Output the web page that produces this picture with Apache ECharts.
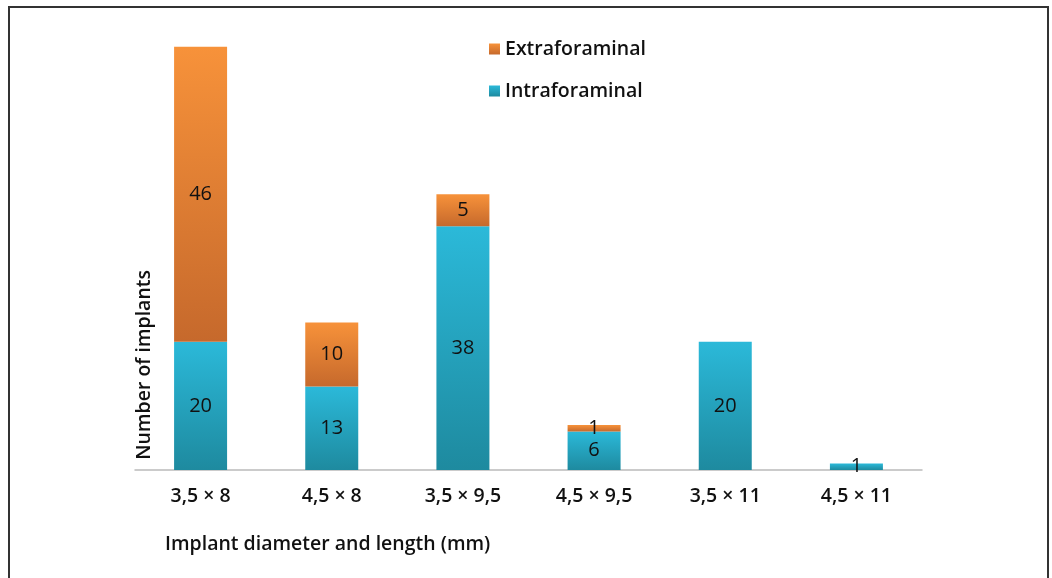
<!DOCTYPE html>
<html>
<head>
<meta charset="utf-8">
<script src="https://cdn.jsdelivr.net/npm/echarts@6/dist/echarts.min.js"></script>
<style>
html, body { margin: 0; padding: 0; background: #fff; }
#frame { position: absolute; left: 8px; top: 6px; width: 1041px; height: 580px; border: 2px solid #333; border-bottom: none; box-sizing: border-box; }
#data { width: 1052px; height: 578px; }
</style>
</head>
<body>
<div id="frame"></div>
<div id="data"></div>
<script>
var categories = ['3,5 × 8', '4,5 × 8', '3,5 × 9,5', '4,5 × 9,5', '3,5 × 11', '4,5 × 11'];
var intraforaminal = [20, 13, 38, 6, 20, 1];
var extraforaminal = [46, 10, 5, 1, null, null];

var font = '"Open Sans", "Noto Sans", sans-serif';

var grad = function(top, bottom){
	return new echarts.graphic.LinearGradient(0, 0, 0, 1, [
		{offset: 0, color: top},
		{offset: 1, color: bottom}
	]);
};

var chart = echarts.init(document.getElementById('data'));
chart.setOption({
	animation: false,
	grid: { left: 135, right: 130, top: 21, bottom: 108 },
	legend: {
		orient: 'vertical',
		left: 484,
		top: 34,
		itemWidth: 11,
		itemHeight: 11,
		itemGap: 22,
		icon: 'rect',
		data: ['Extraforaminal', 'Intraforaminal'],
		textStyle: { fontFamily: font, fontSize: 19.5, fontWeight: 600, color: '#111' }
	},
	xAxis: {
		type: 'category',
		data: categories,
		axisLine: { lineStyle: { color: '#bbb', width: 1.5 } },
		axisTick: { show: false },
		axisLabel: { fontFamily: font, fontSize: 19.5, fontWeight: 600, color: '#111', margin: 16 },
		name: 'Implant diameter and length (mm)',
		nameLocation: 'start',
		nameGap: 0,
		nameTextStyle: { fontFamily: font, fontSize: 19.5, fontWeight: 600, color: '#111', align: 'left', verticalAlign: 'top', padding: [64, 0, 0, 30] }
	},
	yAxis: {
		type: 'value',
		min: 0,
		max: 70,
		show: false
	},
	graphic: [{
		type: 'text',
		left: 134,
		top: 270,
		style: { text: 'Number of implants', font: '600 19.5px ' + font, fill: '#111' },
		rotation: Math.PI / 2,
		originX: 0,
		originY: 0
	}],
	series: [{
		name: 'Intraforaminal',
		type: 'bar',
		stack: 'total',
		barWidth: 53,
		data: intraforaminal,
		itemStyle: { color: grad('#2bb9d9', '#1e8a9f') },
		label: { show: true, position: 'inside', fontFamily: font, fontSize: 20, color: '#111' }
	}, {
		name: 'Extraforaminal',
		type: 'bar',
		stack: 'total',
		barWidth: 53,
		data: extraforaminal,
		itemStyle: { color: grad('#f7923a', '#c6692c') },
		label: { show: true, position: 'inside', fontFamily: font, fontSize: 20, color: '#111' }
	}]
});
</script>
</body>
</html>
